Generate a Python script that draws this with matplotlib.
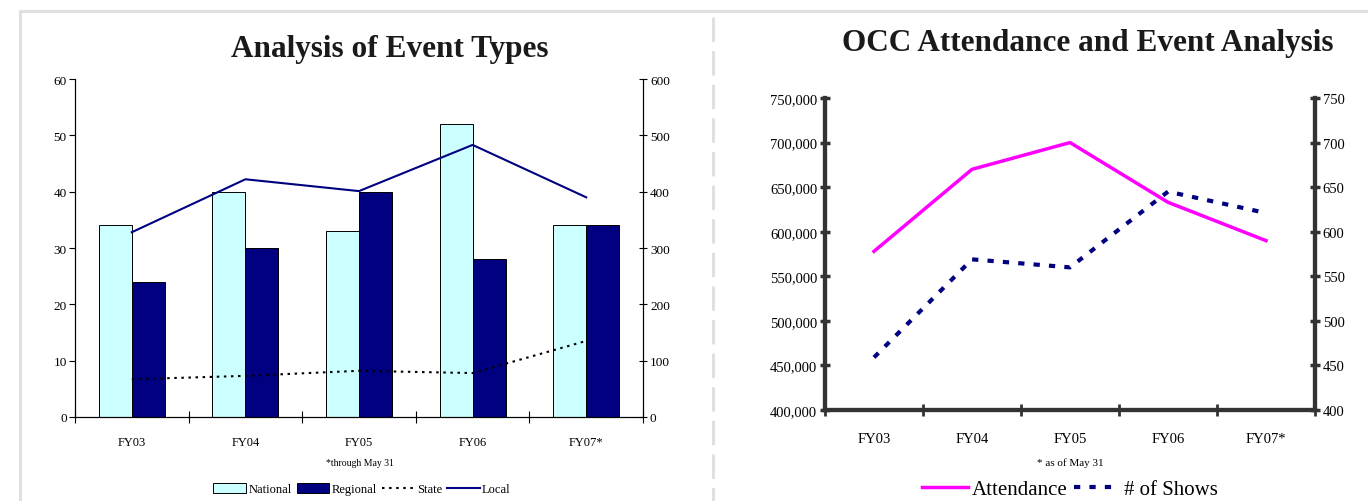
import matplotlib.pyplot as plt
import numpy as np
from matplotlib.lines import Line2D
from matplotlib.patches import Patch
from matplotlib.ticker import FuncFormatter

# data
years = ['FY03', 'FY04', 'FY05', 'FY06', 'FY07*']
national = [34, 40, 33, 52, 34]
regional = [24, 30, 40, 28, 34]
state = [67, 73, 82, 78, 135]
local = [328, 422, 401, 483, 390]

attendance = [578000, 670000, 700000, 633000, 590000]
shows = [459, 569, 560, 645, 621]

plt.rcParams['font.family'] = ['Liberation Serif', 'DejaVu Serif']

W, H = 1368, 502
fig = plt.figure(figsize=(W / 100, H / 100), dpi=100)

def fx(px):
    return px / W

def fy(py):
    return 1 - py / H

# gray page frame
grey = '#e0e0e0'
fig.add_artist(Line2D([fx(20), 1], [fy(12), fy(12)], color=grey, lw=2.2, transform=fig.transFigure))
fig.add_artist(Line2D([fx(20), fx(20)], [fy(12), 0], color=grey, lw=2.2, transform=fig.transFigure))
fig.add_artist(Line2D([fx(713), fx(713)], [fy(18), 0], color=grey, lw=2.2,
                      linestyle=(0, (8, 3)), transform=fig.transFigure))

x = np.arange(len(years))

# ---------------- left chart ----------------
ax = fig.add_axes([fx(75), fy(418), fx(643 - 75), (418 - 80) / H])
bw = 0.29
ax.bar(x - bw / 2, national, bw, color='#ccffff', edgecolor='black', linewidth=0.7)
ax.bar(x + bw / 2, regional, bw, color='#000080', edgecolor='black', linewidth=0.7)
ax.set_xlim(-0.5, 4.5)
ax.set_ylim(0, 60)
ax.set_yticks(range(0, 61, 10))
ax.set_xticks(x)
ax.set_xticklabels(years)
ax.set_xticks(np.arange(-0.5, 4.6, 1), minor=True)
ax.tick_params(axis='x', which='major', length=0, labelsize=9, pad=14)
ax.tick_params(axis='x', which='minor', direction='inout', length=8, width=0.8)
ax.tick_params(axis='y', direction='out', length=4, width=0.8, labelsize=9.5, pad=2)
for s in ['left', 'right', 'bottom']:
    ax.spines[s].set_linewidth(0.8)
ax.spines['top'].set_visible(False)

ax2 = ax.twinx()
ax2.plot(x, state, color='black', lw=1.5, linestyle=(0, (1.2, 2.2)))
ax2.plot(x, local, color='#000080', lw=1.5)
ax2.set_ylim(0, 600)
ax2.set_yticks(range(0, 601, 100))
ax2.tick_params(axis='y', direction='inout', length=6, width=0.8, labelsize=9.5, pad=2)
ax2.spines['top'].set_visible(False)
ax2.spines['right'].set_linewidth(0.8)

fig.text(fx(360), fy(464), '*through May 31', ha='center', va='center', fontsize=7)
handles = [Patch(facecolor='#ccffff', edgecolor='black', linewidth=0.7),
           Patch(facecolor='#000080', edgecolor='black', linewidth=0.7),
           Line2D([], [], color='black', lw=1.5, linestyle=(0, (1.2, 2.2))),
           Line2D([], [], color='#000080', lw=1.5)]
fig.legend(handles, ['National', 'Regional', 'State', 'Local'], loc='center',
           bbox_to_anchor=(fx(362), fy(490)), ncol=4, frameon=False, fontsize=9,
           handlelength=2.6, handletextpad=0.2, columnspacing=0.4, handleheight=0.9)

fig.text(fx(390), fy(49), 'Analysis of Event Types', ha='center', va='center',
         fontsize=22.5, fontweight='bold', color='#1a1a1a')

# ---------------- right chart ----------------
axr = fig.add_axes([fx(825), fy(411), fx(1315 - 825), (411 - 99) / H])
axr.plot(x, attendance, color='#ff00ff', lw=2.5)
axr.set_xlim(-0.5, 4.5)
axr.set_ylim(400000, 750000)
axr.set_yticks(range(400000, 750001, 50000))
axr.yaxis.set_major_formatter(FuncFormatter(lambda v, p: f'{int(v):,}'))
axr.set_xticks(x)
axr.set_xticklabels(years)
axr.set_xticks(np.arange(-0.5, 4.6, 1), minor=True)
axr.tick_params(axis='x', which='major', length=0, labelsize=10.5, pad=16)
axr.tick_params(axis='x', which='minor', direction='inout', length=9, width=2, color='#333333')
axr.tick_params(axis='y', direction='inout', length=7, width=2.5, color='#333333',
                labelsize=10.5, pad=2)

axr2 = axr.twinx()
axr2.plot(x, shows, color='#000080', lw=3, linestyle=(0, (1.5, 2.2)))
axr2.set_ylim(400, 750)
axr2.set_yticks(range(400, 751, 50))
axr2.tick_params(axis='y', direction='inout', length=7, width=2.5, color='#333333',
                 labelsize=10.5, pad=2)
for a in (axr, axr2):
    a.spines['top'].set_visible(False)
    for s in ['left', 'right', 'bottom']:
        a.spines[s].set_linewidth(3)
        a.spines[s].set_color('#333333')

fig.text(fx(1070), fy(463), '* as of May 31', ha='center', va='center', fontsize=8)
handles_r = [Line2D([], [], color='#ff00ff', lw=2.5),
             Line2D([], [], color='#000080', lw=3, linestyle=(0, (1.5, 2.2)))]
fig.legend(handles_r, ['Attendance', '# of Shows'], loc='center',
           bbox_to_anchor=(fx(1070), fy(490)), ncol=2, frameon=False, fontsize=15,
           handlelength=2.2, handletextpad=0.2, columnspacing=0.3)

fig.text(fx(1088), fy(43), 'OCC Attendance and Event Analysis', ha='center', va='center',
         fontsize=22.5, fontweight='bold', color='#1a1a1a')

fig.savefig('out.png', dpi=100)
